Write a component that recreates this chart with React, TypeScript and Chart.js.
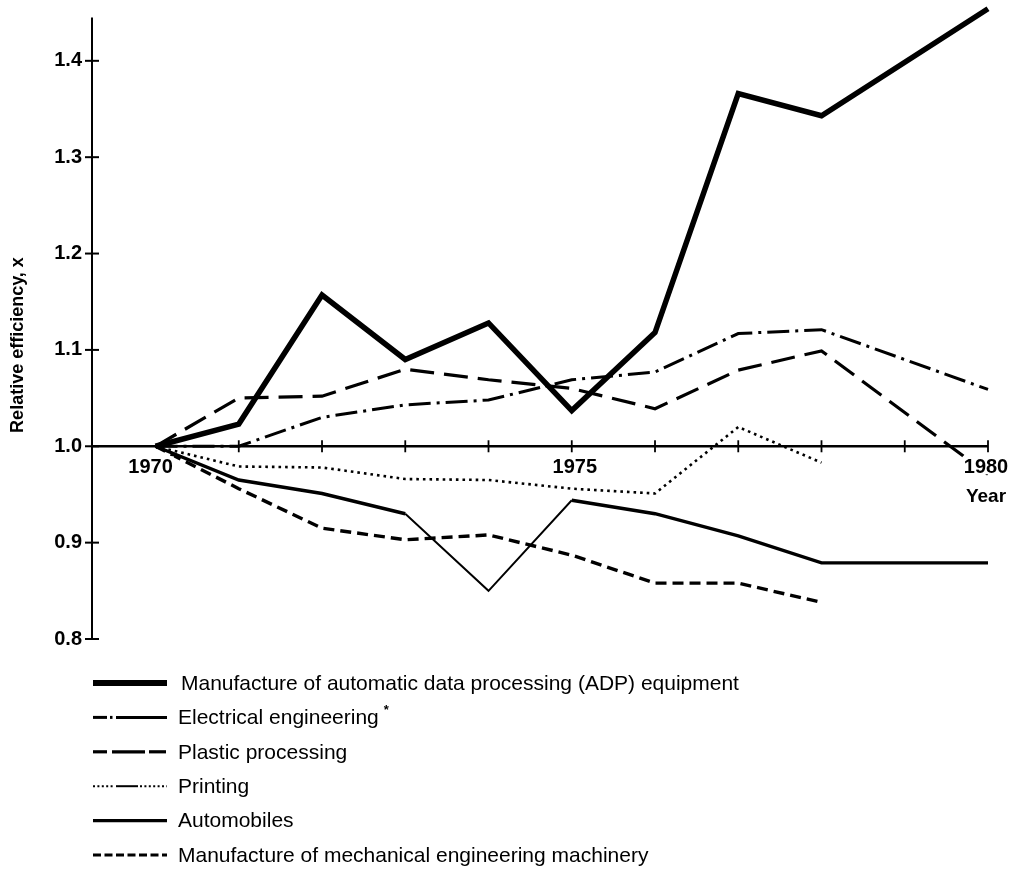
import React, { useEffect, useRef } from "react";
import { Chart, registerables } from "chart.js";

Chart.register(...registerables);

// ---------- data ----------
const YEARS = [1970, 1971, 1972, 1973, 1974, 1975, 1976, 1977, 1978, 1979, 1980];
const ADP = [1.0, 1.023, 1.157, 1.09, 1.128, 1.037, 1.118, 1.366, 1.343, null, 1.454];
const ELECTRICAL = [1.0, 1.0, 1.03, 1.043, 1.048, 1.069, 1.077, 1.117, 1.121, null, 1.059];
const PLASTIC = [1.0, 1.05, 1.052, 1.08, 1.069, 1.06, 1.039, 1.079, 1.099, null, 0.971];
const PRINTING = [1.0, 0.979, 0.978, 0.966, 0.965, 0.956, 0.951, 1.02, 0.983, null, null];
const AUTOMOBILES = [1.0, 0.965, 0.951, 0.93, 0.85, 0.944, 0.93, 0.907, 0.879, null, 0.879];
const MECHANICAL = [1.0, 0.956, 0.915, 0.903, 0.908, 0.887, 0.858, 0.858, 0.838, null, null];

const SERIES_NAMES = [
  "Manufacture of automatic data processing (ADP) equipment",
  "Electrical engineering",
  "Plastic processing",
  "Printing",
  "Automobiles",
  "Manufacture of mechanical engineering machinery",
];

const Y_TICKS = [0.8, 0.9, 1.0, 1.1, 1.2, 1.3, 1.4];
const X_TICK_YEARS = [1971, 1972, 1973, 1974, 1975, 1976, 1977, 1978, 1979, 1980];
const X_LABEL_YEARS = [1970, 1975, 1980];
const X_AXIS_TITLE = "Year";
const Y_AXIS_TITLE = "Relative efficiency, x";
const BASELINE = 1.0;

const toPoints = (vals: (number | null)[]) =>
  YEARS.map((yr, i) => ({ x: yr, y: vals[i] })).filter((p) => p.y !== null);

const FONT = "'Liberation Sans', Arial, Helvetica, sans-serif";

// legend sample painters
type Seg = { a: number; b: number; w: number; dash?: number[] };
const LEGEND_SAMPLES: Seg[][] = [
  [{ a: 93, b: 167, w: 6 }],
  [
    { a: 93, b: 107, w: 3 },
    { a: 110, b: 112.5, w: 3 },
    { a: 116, b: 167, w: 3 },
  ],
  [
    { a: 93, b: 107, w: 3.2 },
    { a: 112, b: 145, w: 3.2 },
    { a: 149, b: 166, w: 3.2 },
  ],
  [
    { a: 93, b: 114, w: 2, dash: [2, 2.4] },
    { a: 116, b: 138, w: 2 },
    { a: 140, b: 167, w: 2, dash: [2, 2.4] },
  ],
  [{ a: 93, b: 167, w: 3.4 }],
  [{ a: 93, b: 167, w: 2.8, dash: [8, 3.5] }],
];

const customPlugin = {
  id: "customAxesAndLegend",
  beforeDatasetsDraw(chart: any) {
    const { ctx, scales } = chart;
    const x = scales.x;
    const y = scales.y;
    const x0 = chart.chartArea.left;
    ctx.save();
    ctx.strokeStyle = "#000";
    ctx.lineCap = "butt";
    // vertical axis
    ctx.lineWidth = 2;
    ctx.beginPath();
    ctx.moveTo(x0, y.getPixelForValue(1.445));
    ctx.lineTo(x0, y.getPixelForValue(Y_TICKS[0]) + 1);
    ctx.stroke();
    Y_TICKS.forEach((v) => {
      const py = y.getPixelForValue(v);
      ctx.beginPath();
      ctx.moveTo(x0 - 7, py);
      ctx.lineTo(x0 + 7, py);
      ctx.stroke();
    });
    // horizontal axis at 1.0
    const pyb = y.getPixelForValue(BASELINE);
    ctx.lineWidth = 2.6;
    ctx.beginPath();
    ctx.moveTo(x0, pyb);
    ctx.lineTo(x.getPixelForValue(1980), pyb);
    ctx.stroke();
    ctx.lineWidth = 1.8;
    X_TICK_YEARS.forEach((yr) => {
      const px = x.getPixelForValue(yr);
      ctx.beginPath();
      ctx.moveTo(px, pyb - 6);
      ctx.lineTo(px, pyb + 6);
      ctx.stroke();
    });
    ctx.restore();
  },
  afterDatasetsDraw(chart: any) {
    const { ctx, scales } = chart;
    const x = scales.x;
    const y = scales.y;
    const pyb = y.getPixelForValue(BASELINE);
    ctx.save();
    // x labels with white background
    ctx.font = `bold 20px ${FONT}`;
    ctx.textAlign = "center";
    ctx.textBaseline = "top";
    X_LABEL_YEARS.forEach((yr, i) => {
      let px = x.getPixelForValue(yr);
      if (i === 0) px -= 5;
      if (i === 1) px += 3;
      if (i === 2) px -= 2;
      const w = ctx.measureText(String(yr)).width;
      ctx.fillStyle = "#fff";
      ctx.fillRect(px - w / 2 - 1, pyb + 10, w + 2, 18);
      ctx.fillStyle = "#000";
      ctx.fillText(String(yr), px, pyb + 11);
    });
    ctx.font = `bold 19px ${FONT}`;
    ctx.fillText(X_AXIS_TITLE, x.getPixelForValue(1980) - 2, pyb + 41);

    // y title
    ctx.save();
    ctx.translate(18, 345);
    ctx.rotate(-Math.PI / 2);
    ctx.font = `bold 18px ${FONT}`;
    ctx.textAlign = "center";
    ctx.textBaseline = "middle";
    ctx.fillStyle = "#000";
    ctx.fillText(Y_AXIS_TITLE, 0, 0);
    ctx.restore();

    // legend
    const rowY0 = 683;
    const rowStep = 34.4;
    ctx.strokeStyle = "#000";
    ctx.fillStyle = "#000";
    ctx.textAlign = "left";
    ctx.textBaseline = "middle";
    SERIES_NAMES.forEach((name, i) => {
      const ry = rowY0 + i * rowStep;
      LEGEND_SAMPLES[i].forEach((s) => {
        ctx.lineWidth = s.w;
        ctx.setLineDash(s.dash || []);
        ctx.beginPath();
        ctx.moveTo(s.a, ry);
        ctx.lineTo(s.b, ry);
        ctx.stroke();
      });
      ctx.setLineDash([]);
      ctx.font = `21px ${FONT}`;
      const tx = i === 0 ? 181 : 178;
      ctx.fillText(name, tx, ry + 1);
      if (i === 1) {
        const w = ctx.measureText(name).width;
        ctx.font = `bold 13px ${FONT}`;
        ctx.fillText("*", tx + w + 5, ry - 7);
      }
    });
    ctx.restore();
  },
};

export default function App() {
  const ref = useRef<HTMLCanvasElement | null>(null);
  useEffect(() => {
    if (!ref.current) return;
    const base = { borderColor: "#000", pointRadius: 0, fill: false, spanGaps: true, tension: 0, borderJoinStyle: "miter" as const, borderCapStyle: "butt" as const };
    const chart = new Chart(ref.current, {
      type: "line",
      data: {
        datasets: [
          { ...base, label: SERIES_NAMES[0], data: toPoints(ADP), borderWidth: 5.5 },
          { ...base, label: SERIES_NAMES[1], data: toPoints(ELECTRICAL), borderWidth: 3, borderDash: [22, 6, 3, 6] },
          { ...base, label: SERIES_NAMES[2], data: toPoints(PLASTIC), borderWidth: 3.2, borderDash: [24, 10] },
          { ...base, label: SERIES_NAMES[3], data: toPoints(PRINTING), borderWidth: 2.6, borderDash: [2.6, 4] },
          {
            ...base,
            label: SERIES_NAMES[4],
            data: toPoints(AUTOMOBILES),
            borderWidth: 3.4,
            segment: {
              borderWidth: (c: any) => (c.p0DataIndex === 3 || c.p0DataIndex === 4 ? 1.9 : 3.4),
            },
          },
          { ...base, label: SERIES_NAMES[5], data: toPoints(MECHANICAL), borderWidth: 3.4, borderDash: [11, 6] },
        ],
      },
      options: {
        animation: false,
        responsive: false,
        devicePixelRatio: 1,
        layout: { padding: { left: 0, right: 25, top: 3, bottom: 232 } },
        plugins: { legend: { display: false }, tooltip: { enabled: false } },
        datasets: { line: { clip: false as any } },
        scales: {
          x: { type: "linear", min: 1969.237, max: 1980, display: false },
          y: {
            type: "linear",
            min: 0.8,
            max: 1.46,
            position: "left",
            grid: { display: false, drawTicks: false },
            border: { display: false },
            ticks: {
              color: "#000",
              padding: 10,
              font: { family: FONT, size: 20, weight: "bold" },
              callback: (v: any) => Number(v).toFixed(1),
            },
            afterBuildTicks: (scale: any) => {
              scale.ticks = Y_TICKS.map((v) => ({ value: v }));
            },
            afterFit: (scale: any) => {
              scale.width = 92;
              scale.paddingTop = 0;
              scale.paddingBottom = 0;
            },
          },
        },
      },
      plugins: [customPlugin],
    });
    return () => chart.destroy();
  }, []);
  return (
    <div style={{ position: "absolute", left: 0, top: 0, width: 1013, height: 871, background: "#fff" }}>
      <canvas ref={ref} width={1013} height={871} style={{ width: 1013, height: 871, display: "block" }} />
    </div>
  );
}
